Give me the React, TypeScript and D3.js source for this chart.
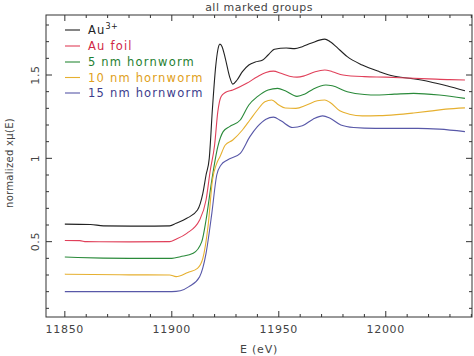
import React from "react";
import * as d3 from "d3";

const W = 474;
const H = 356;

const seriesNames = ["Au", "Au foil", "5 nm hornworm", "10 nm hornworm", "15 nm hornworm"];
const seriesColors = ["#222222", "#e0405a", "#2a8a3a", "#e6b030", "#5858a8"];
const textColors = ["#222222", "#d02845", "#1f7f32", "#e0a020", "#3c3c8c"];

const au3: [number, number][] = [
  [11850, 0.605], [11862, 0.603], [11868, 0.595], [11885, 0.593], [11899, 0.595],
  [11902, 0.61], [11907, 0.64], [11912, 0.69], [11914.5, 0.79], [11916, 0.9],
  [11917.5, 1.0], [11919, 1.3], [11920.5, 1.55], [11921.5, 1.65], [11922.5, 1.685],
  [11923.5, 1.67], [11925, 1.6], [11927, 1.49], [11928.5, 1.445], [11930.5, 1.47],
  [11933, 1.52], [11936, 1.56], [11939, 1.578], [11942.5, 1.59], [11945, 1.62],
  [11948, 1.655], [11953.5, 1.662], [11957.5, 1.658], [11961, 1.67], [11965, 1.69],
  [11971.5, 1.715], [11974, 1.7], [11978.5, 1.65], [11982, 1.61], [11989, 1.56],
  [11997, 1.52], [12003, 1.495], [12012.5, 1.478], [12020.5, 1.46], [12028.5, 1.435],
  [12037, 1.405],
];

const auFoil: [number, number][] = [
  [11850, 0.507], [11857, 0.506], [11860, 0.5], [11880, 0.499], [11899, 0.5],
  [11902, 0.515], [11907, 0.55], [11913, 0.63], [11916, 0.75], [11918, 0.93],
  [11920, 1.08], [11921.5, 1.28], [11923, 1.37], [11925, 1.395], [11928.5, 1.41],
  [11935, 1.45], [11940, 1.49], [11944, 1.515], [11947.5, 1.523], [11951, 1.51],
  [11955, 1.493], [11958.5, 1.487], [11962, 1.495], [11967, 1.52], [11971.5, 1.53],
  [11975, 1.52], [11980, 1.5], [11990, 1.49], [12000, 1.487], [12010, 1.482],
  [12020, 1.477], [12030, 1.472], [12037, 1.47],
];

const nm5: [number, number][] = [
  [11850, 0.408], [11856, 0.405], [11880, 0.4], [11900, 0.4], [11904, 0.41],
  [11910, 0.43], [11914, 0.5], [11916, 0.63], [11918.7, 0.87], [11921.5, 1.07],
  [11924, 1.16], [11927, 1.19], [11932, 1.23], [11936, 1.32], [11940, 1.37],
  [11945, 1.41], [11949.5, 1.42], [11953, 1.405], [11958.5, 1.372], [11962, 1.385],
  [11966, 1.415], [11972, 1.44], [11975, 1.435], [11982, 1.4], [11990, 1.383],
  [11996, 1.38], [12004, 1.385], [12013, 1.39], [12025, 1.38], [12037, 1.36],
];

const nm10: [number, number][] = [
  [11850, 0.305], [11880, 0.301], [11899, 0.3], [11902, 0.29], [11907.5, 0.315],
  [11912, 0.34], [11914.5, 0.4], [11917, 0.6], [11919, 0.87], [11921, 0.97],
  [11922.5, 1.01], [11925, 1.08], [11928.5, 1.11], [11933, 1.17], [11936.5, 1.23],
  [11940, 1.29], [11943.5, 1.34], [11946.7, 1.35], [11950, 1.32], [11953, 1.302],
  [11958, 1.3], [11963, 1.32], [11968, 1.345], [11971.5, 1.35], [11974, 1.335],
  [11978.5, 1.285], [11983, 1.265], [11989, 1.255], [11997, 1.256], [12005, 1.262],
  [12013, 1.272], [12020.5, 1.283], [12028, 1.295], [12037, 1.303],
];

const nm15: [number, number][] = [
  [11850, 0.2], [11880, 0.2], [11900, 0.2], [11904, 0.205], [11908, 0.23],
  [11913, 0.29], [11916, 0.43], [11918.7, 0.67], [11921, 0.9], [11923, 0.96],
  [11926, 0.99], [11932, 1.03], [11936.5, 1.13], [11940, 1.19], [11944, 1.235],
  [11947.5, 1.247], [11951, 1.225], [11956.5, 1.185], [11961, 1.195], [11966, 1.235],
  [11970.5, 1.255], [11974, 1.24], [11979, 1.2], [11985, 1.185], [11995, 1.18],
  [12005, 1.18], [12015, 1.18], [12025, 1.175], [12037, 1.16],
];

const allSeries = [au3, auFoil, nm5, nm10, nm15];

const xTicks = [11850, 11900, 11950, 12000];
const yTicks = [0.5, 1, 1.5];

const FONT = "'DejaVu Sans', sans-serif";

export default function App() {
  const left = 46, right = 472, top = 15, bottom = 317;
  const x = d3.scaleLinear().domain([11841.2, 12040.3]).range([left, right]);
  const y = d3.scaleLinear().domain([0.048, 1.86]).range([bottom, top]);
  const line = d3
    .line<[number, number]>()
    .x((d) => x(d[0]))
    .y((d) => y(d[1]))
    .curve(d3.curveMonotoneX);

  const xMinor = d3.range(11850, 12041, 10).filter((v) => !xTicks.includes(v));
  const xMinorAll = [11850 - 10, ...xMinor].filter((v) => x(v) > left);
  const yMinor = d3.range(0.1, 1.85, 0.1).map((v) => Math.round(v * 10) / 10).filter((v) => !yTicks.includes(v));

  const tickColor = "#333";
  const txt = "#444";
  const legendY = [30, 46, 62, 77.5, 93];

  return (
    <svg width={W} height={H} style={{ position: "absolute", left: 0, top: 0, background: "#fff" }}>
      <text x={(left + right) / 2} y={11} textAnchor="middle" fontFamily={FONT} fontSize={11} fill={txt} letterSpacing={0.5}>
        all marked groups
      </text>
      {/* frame */}
      <rect x={left} y={top} width={right - left} height={bottom - top} fill="none" stroke="#333" strokeWidth={1} />
      {/* x ticks */}
      {xTicks.map((v) => (
        <g key={"xt" + v}>
          <line x1={x(v)} x2={x(v)} y1={bottom} y2={bottom - 6} stroke={tickColor} />
          <line x1={x(v)} x2={x(v)} y1={top} y2={top + 6} stroke={tickColor} />
          <text x={x(v)} y={333} textAnchor="middle" fontFamily={FONT} fontSize={11} fill={txt} letterSpacing={0.7}>
            {v}
          </text>
        </g>
      ))}
      {xMinorAll.map((v) => (
        <g key={"xm" + v}>
          <line x1={x(v)} x2={x(v)} y1={bottom} y2={bottom - 3} stroke={tickColor} />
          <line x1={x(v)} x2={x(v)} y1={top} y2={top + 3} stroke={tickColor} />
        </g>
      ))}
      {/* y ticks */}
      {yTicks.map((v) => (
        <g key={"yt" + v}>
          <line x1={left} x2={left + 6} y1={y(v)} y2={y(v)} stroke={tickColor} />
          <line x1={right} x2={right - 6} y1={y(v)} y2={y(v)} stroke={tickColor} />
          <text
            transform={`translate(39,${y(v)}) rotate(-90)`}
            textAnchor="middle"
            fontFamily={FONT}
            fontSize={11}
            fill={txt}
            letterSpacing={0.6}
          >
            {v}
          </text>
        </g>
      ))}
      {yMinor.map((v) => (
        <g key={"ym" + v}>
          <line x1={left} x2={left + 3} y1={y(v)} y2={y(v)} stroke={tickColor} />
          <line x1={right} x2={right - 3} y1={y(v)} y2={y(v)} stroke={tickColor} />
        </g>
      ))}
      {/* axis titles */}
      <text x={(left + right) / 2} y={353} textAnchor="middle" fontFamily={FONT} fontSize={11} fill={txt} letterSpacing={0.8}>
        E (eV)
      </text>
      <text
        transform={`translate(13,163) rotate(-90)`}
        textAnchor="middle"
        fontFamily={FONT}
        fontSize={10}
        fill={txt}
        letterSpacing={0.3}
      >
        normalized xμ(E)
      </text>
      {/* series */}
      {allSeries.map((s, i) => (
        <path key={"s" + i} d={line(s) || ""} fill="none" stroke={seriesColors[i]} strokeWidth={1.1} />
      ))}
      {/* legend */}
      {seriesNames.map((n, i) => (
        <g key={"lg" + i}>
          <line x1={65} x2={80} y1={legendY[i]} y2={legendY[i]} stroke={seriesColors[i]} strokeWidth={1.1} />
          <text x={88} y={legendY[i] + 4} fontFamily={FONT} fontSize={11.5} fill={textColors[i]} letterSpacing={1.2}>
            {n}
            {i === 0 ? (
              <tspan dy={-5} fontSize={8} letterSpacing={0.3}>
                3+
              </tspan>
            ) : null}
          </text>
        </g>
      ))}
    </svg>
  );
}
